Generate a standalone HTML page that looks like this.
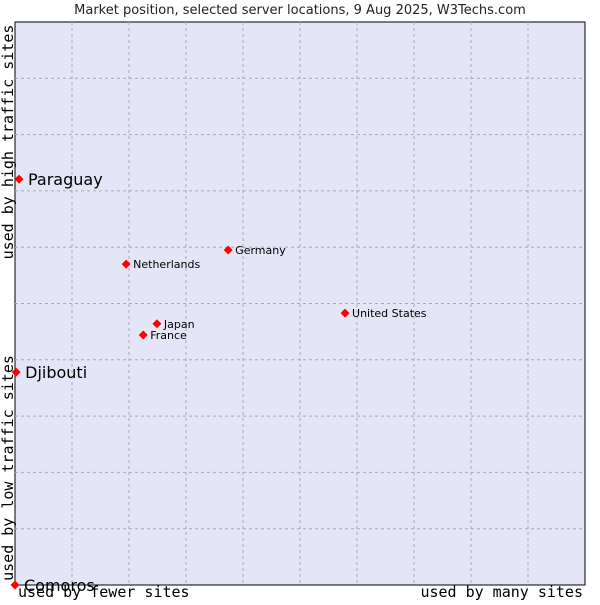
<!DOCTYPE html>
<html><head><meta charset="utf-8"><style>
body{margin:0;background:#fff;width:600px;height:600px;overflow:hidden}
svg text{font-family:"DejaVu Sans","Liberation Sans",sans-serif}
.mono{font-family:"DejaVu Sans Mono","Liberation Mono",monospace}
</style></head><body>
<svg id="c" width="600" height="600">
<text x="300" y="14" font-size="13" text-anchor="middle" fill="#222">Market position, selected server locations, 9 Aug 2025, W3Techs.com</text>
<rect x="15" y="22" width="570" height="563" fill="#e4e6f8" stroke="#000" stroke-width="1"/>
<g id="grid"></g>
<g id="pts"></g>
<text class="mono" x="18" y="597" font-size="15" fill="#000">used by fewer sites</text>
<text class="mono" x="583" y="597" font-size="15" fill="#000" text-anchor="end">used by many sites</text>
<text class="mono" transform="translate(13,142) rotate(-90)" font-size="15" text-anchor="middle" fill="#000">used by high traffic sites</text>
<text class="mono" transform="translate(13,468) rotate(-90)" font-size="15" text-anchor="middle" fill="#000">used by low traffic sites</text>
</svg>
<script>
const names=["Paraguay","Djibouti","Comoros","Netherlands","Germany","United States","Japan","France"];
const xVals=[0.7,0.2,0,19.5,37.4,57.9,24.9,22.5];
const yVals=[72.1,37.8,0,57.0,59.5,48.3,46.4,44.4];
const bigLabel=[true,true,true,false,false,false,false,false];
const L=15,T=22,W=570,H=563;
const sx=v=>L+v/100*W, sy=v=>T+H-v/100*H;
const ns="http://www.w3.org/2000/svg";
const g=document.getElementById('grid');
for(let i=1;i<10;i++){
 const a=document.createElementNS(ns,'line');
 a.setAttribute('x1',sx(i*10));a.setAttribute('x2',sx(i*10));a.setAttribute('y1',T);a.setAttribute('y2',T+H);
 a.setAttribute('stroke','#aaa');a.setAttribute('stroke-dasharray','3,3');
 
 
 g.appendChild(a);
 const b=document.createElementNS(ns,'line');
 b.setAttribute('y1',sy(i*10));b.setAttribute('y2',sy(i*10));b.setAttribute('x1',L);b.setAttribute('x2',L+W);
 b.setAttribute('stroke','#aaa');b.setAttribute('stroke-dasharray','3,3');
 
 
 g.appendChild(b);
}
const p=document.getElementById('pts');
names.forEach((n,i)=>{
 const x=sx(xVals[i]),y=sy(yVals[i]);
 const d=document.createElementNS(ns,'path');
 d.setAttribute('d',`M${x-4.5},${y} L${x},${y-4.5} L${x+4.5},${y} L${x},${y+4.5} Z`);
 d.setAttribute('fill','#f00');
 
 
 p.appendChild(d);
 const t=document.createElementNS(ns,'text');
 const big=bigLabel[i];
 t.setAttribute('x',x+(big?9:7));t.setAttribute('y',y+(big?6:4));
 t.setAttribute('font-size',big?16:11);
 t.setAttribute('fill','#000');
 t.textContent=n;
 
 
 p.appendChild(t);
});
</script>
</body></html>
